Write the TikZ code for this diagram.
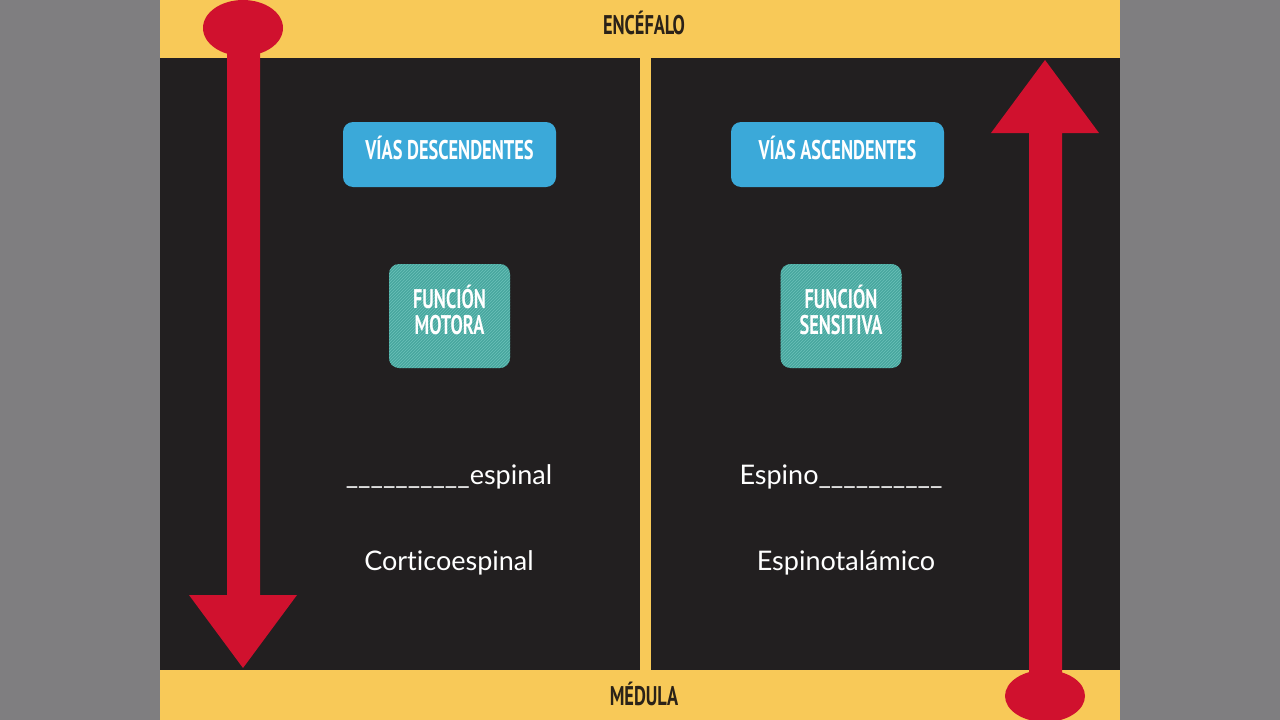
\documentclass[tikz,border=0pt]{standalone}
\usepackage{fontspec}
\setmainfont{Lato}[Ligatures={NoCommon}]
\newfontfamily\condfont[FakeStretch=0.68]{PT Sans}
\usetikzlibrary{patterns}
\definecolor{sidegrey}{HTML}{7F7E80}
\definecolor{panel}{HTML}{221F20}
\definecolor{bar}{HTML}{F8C958}
\definecolor{arrowred}{HTML}{D0112E}
\definecolor{bluebox}{HTML}{3BA9D9}
\definecolor{tealbox}{HTML}{48A69E}
\definecolor{tealline}{HTML}{6CC2B9}
\definecolor{bartext}{HTML}{2B2218}
\tikzset{
  condtext/.style={font=\condfont\bfseries\fontsize{27}{26}\selectfont},
  bartitle/.style={condtext, text=bartext},
  viabox/.style={fill=bluebox, rounded corners=10pt, minimum width=213pt, minimum height=65pt},
  funcbox/.style={fill=tealbox, rounded corners=10pt, minimum width=121pt, minimum height=104pt,
    postaction={pattern=north east lines, pattern color=tealline}},
  boxtext/.style={condtext, text=white, align=center},
  plain/.style={text=white, font=\fontsize{27}{30}\selectfont},
  redfill/.style={fill=arrowred}
}
\begin{document}
\begin{tikzpicture}[x=1pt,y=-1pt]
\useasboundingbox (0,0) rectangle (1280,720);
\fill[sidegrey] (0,0) rectangle (1280,720);
\fill[panel] (160,0) rectangle (1120,720);
\fill[bar] (160,0) rectangle (1120,58);
\fill[bar] (160,670) rectangle (1120,720);
\fill[bar] (640,58) rectangle (651,670);
% left arrow (down)
\fill[redfill] (243,28) ellipse [x radius=40pt, y radius=28pt];
\fill[redfill] (227,45) -- (260,45) -- (260,595) -- (297,595) -- (243,668) -- (189,595) -- (227,595) -- cycle;
% right arrow (up)
\fill[redfill] (1045,696) ellipse [x radius=40pt, y radius=26pt];
\fill[redfill] (1045,60) -- (1099,133) -- (1062,133) -- (1062,690) -- (1029,690) -- (1029,133) -- (991,133) -- cycle;
\node[bartitle] (enc) at (644,23) {ENCÉFALO};
\node[bartitle] (med) at (644,694) {MÉDULA};
\node[viabox] (vd) at (449.5,154.5) {};
\node[boxtext] (vdt) at (449.5,148) {VÍAS DESCENDENTES};
\node[viabox] (va) at (837.5,154.5) {};
\node[boxtext] (vat) at (837.5,148) {VÍAS ASCENDENTES};
\node[funcbox] (fm) at (449.5,316) {};
\node[boxtext] (fmt) at (449.5,310) {FUNCIÓN\\MOTORA};
\node[funcbox] (fs) at (841,316) {};
\node[boxtext] (fst) at (841,310) {FUNCIÓN\\SENSITIVA};
\node[plain] (q1) at (449,477) {\_\_\_\_\_\_\_\_\_\_espinal};
\node[plain] (q2) at (841,477) {Espino\_\_\_\_\_\_\_\_\_\_};
\node[plain] (a1) at (449,563) {Corticoespinal};
\node[plain] (a2) at (846,563) {Espinotalámico};
\end{tikzpicture}
\end{document}
